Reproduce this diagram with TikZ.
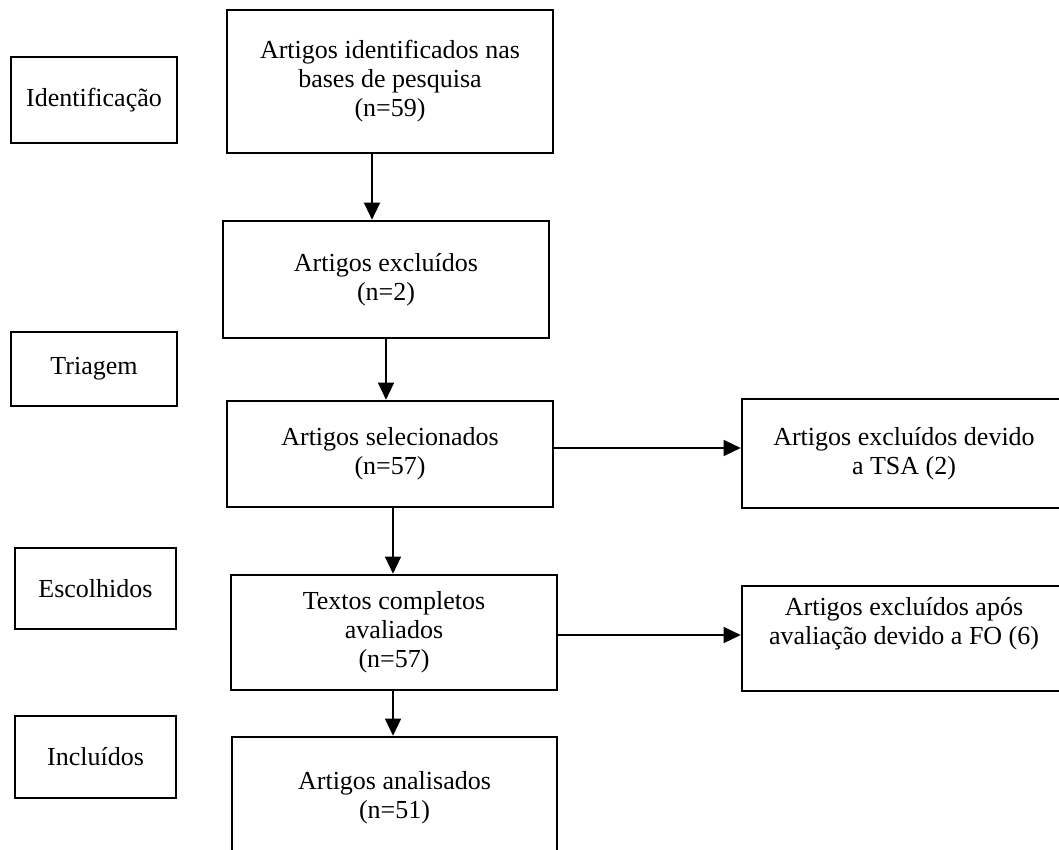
\documentclass[tikz,border=0pt]{standalone}
\usepackage{fontspec}
\setmainfont{Liberation Serif}
\usetikzlibrary{arrows.meta}
\begin{document}
\begin{tikzpicture}[x=1pt,y=-1pt,
  box/.style={draw=black,line width=2.6pt,rectangle,align=center,inner sep=0pt,
    font=\fontsize{26}{29}\selectfont},
  txt/.style={align=center,inner sep=0pt,font=\fontsize{26}{29}\selectfont},
  arr/.style={line width=1.3pt,-{Triangle[width=16pt,length=17pt]}}]
\useasboundingbox (0,0) rectangle (1059,850);
% stage labels
\node[box,minimum width=166,minimum height=86] (id) at (94,100) {Identificação};
\node[box,minimum width=166,minimum height=74] (tri) at (94,369) {Triagem};
\node[box,minimum width=161,minimum height=81] (esc) at (95.5,588.5) {Escolhidos};
\node[box,minimum width=161,minimum height=82] (inc) at (95.5,757) {Incluídos};
% main column
\node[box,minimum width=326,minimum height=143] (b1) at (390,81.5) {Artigos identificados nas\\bases de pesquisa\\(n=59)};
\node[box,minimum width=326,minimum height=117] (b2) at (386,279.5) {Artigos excluídos\\(n=2)};
\node[box,minimum width=326,minimum height=106] (b3) at (390,454) {Artigos selecionados\\(n=57)};
\node[box,minimum width=326,minimum height=115] (b4) at (394,632.5) {Textos completos\\avaliados\\(n=57)};
\node[box,minimum width=325,minimum height=122] (b5) at (394.5,798) {Artigos analisados\\(n=51)};
% right column
\node[box,minimum width=324,minimum height=109] (tsa) at (904,453.5) {Artigos excluídos devido\\a TSA (2)};
\node[box,minimum width=324,minimum height=105] (fo) at (904,638.5) {};
\node[txt] (fot) at (904,624) {Artigos excluídos após\\avaliação devido a FO (6)};
% connectors
\draw[arr] ([xshift=-18pt]b1.south) -- ([xshift=-18pt]b1.south |- b2.north);
\draw[arr] (b2.south) -- (b2.south |- b3.north);
\draw[arr] ([xshift=3pt]b3.south) -- ([xshift=3pt]b3.south |- b4.north);
\draw[arr] ([xshift=-1pt]b4.south) -- ([xshift=-1pt]b4.south |- b5.north);
\draw[arr] ([yshift=6pt]b3.east) -- ([yshift=6pt]b3.east -| tsa.west);
\draw[arr] ([yshift=-2.5pt]b4.east) -- ([yshift=-2.5pt]b4.east -| fo.west);
\end{tikzpicture}
\end{document}
